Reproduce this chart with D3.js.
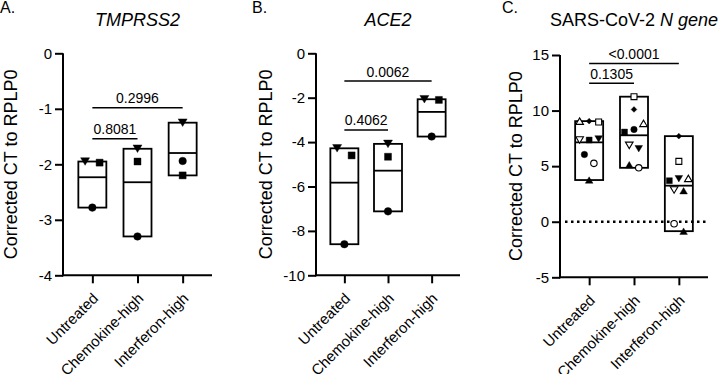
<!DOCTYPE html>
<html>
<head>
<meta charset="utf-8">
<script src="https://cdn.jsdelivr.net/npm/d3@7"></script>
<style>
  body { margin: 0; background: #fff; }
  text { font-family: "Liberation Sans", Arial, sans-serif; fill: #000; }
</style>
</head>
<body>
<script>
// Grupper
const groups = ["Untreated", "Chemokine-high", "Interferon-high"];

// Panel A - TMPRSS2 (donatorer: triangel ned, kvadrat, cirkel)
const donorSymbolsAB = ["triDownFilled", "squareFilled", "circleFilled"];
const tmprssValues = [
    [-1.95, -1.97, -2.78],
    [-1.72, -1.95, -3.30],
    [-1.25, -2.20, -1.94]
];
const tmprssTicks = [-4, -3, -2, -1, 0];
const tmprssP = ["0.2996", "0.8081"];

// Panel B - ACE2
const ace2Values = [
    [-4.28, -4.60, -8.60],
    [-4.08, -4.66, -7.12],
    [-2.07, -2.10, -3.75]
];
const ace2Ticks = [-10, -8, -6, -4, -2, 0];
const ace2P = ["0.0062", "0.4062"];

// Panel C - SARS-CoV-2 N gene
const nGeneSymbols = [
    ["triDownOpen", "squareFilled", "circleFilled", "triDownFilled", "triUpOpen", "diamondFilled", "squareOpen", "triUpFilled", "circleOpen"],
    ["triDownOpen", "squareFilled", "circleFilled", "triDownFilled", "triUpOpen", "diamondFilled", "squareOpen", "triUpFilled", "circleOpen"],
    ["triDownOpen", "squareFilled", "triDownFilled", "triUpOpen", "diamondFilled", "squareOpen", "triUpFilled", "circleOpen", "triUpFilled"]
];
const nGeneValues = [
    [7.35, 7.35, 6.05, 7.45, 9.05, 9.05, 8.97, 3.75, 5.25],
    [6.87, 8.07, 8.30, 6.57, 8.85, 10.10, 11.25, 5.13, 4.85],
    [2.85, 3.69, 3.87, 3.90, 7.70, 5.43, 2.79, -0.18, -0.85]
];
const nGeneTicks = [-5, 0, 5, 10, 15];
const nGeneP = ["<0.0001", "0.1305"];

const yLabel = "Corrected CT to RPLP0";

const svg = d3.select("body").append("svg")
    .attr("width", 720)
    .attr("height", 374);

const panels = [
    { letter: "A.", letterX: 0, title: [["TMPRSS2", true]],
      x0: 63, x1: 212, yTop: 53.3, yBot: 275.3, domain: [-4, 0], ticks: tmprssTicks,
      labelX: 16.7, values: tmprssValues, symbols: [donorSymbolsAB, donorSymbolsAB, donorSymbolsAB],
      pvals: tmprssP, levels: [-0.98, -1.54], spacing: 14.5, symScale: 1 },
    { letter: "B.", letterX: 252, title: [["ACE2", true]],
      x0: 316, x1: 460, yTop: 53.3, yBot: 275.3, domain: [-10, 0], ticks: ace2Ticks,
      labelX: 271.7, values: ace2Values, symbols: [donorSymbolsAB, donorSymbolsAB, donorSymbolsAB],
      pvals: ace2P, levels: [-1.25, -3.45], spacing: 14.5, symScale: 1 },
    { letter: "C.", letterX: 502, title: [["SARS-CoV-2 ", false], ["N gene", true]],
      x0: 560, x1: 708, yTop: 55, yBot: 277.3, domain: [-5, 15], ticks: nGeneTicks,
      labelX: 521.7, values: nGeneValues, symbols: nGeneSymbols,
      pvals: nGeneP, levels: [14.24, 12.45], spacing: 9.5, symScale: 0.85, refLine: 0 }
];

// Symboler, centrerade på sin bounding box
function symbolPath(name, k) {
    const base = name.replace(/(Open|Filled)$/, "");
    const open = name.endsWith("Open");
    const w = 4.5 * k, h = 3.8 * k, s = 3.5 * k, r = 3.8 * k, dm = 3.4 * k;
    const shapes = {
        triDown: `M${-w},${-h}L${w},${-h}L0,${h}Z`,
        triUp: `M${-w},${h}L${w},${h}L0,${-h}Z`,
        square: `M${-s},${-s}H${s}V${s}H${-s}Z`,
        diamond: `M0,${-dm}L${dm},0L0,${dm}L${-dm},0Z`,
        circle: `M${r},0A${r},${r},0,1,1,${-r},0A${r},${r},0,1,1,${r},0Z`
    };
    return { d: shapes[base], open: open };
}

// Lägg punkter i rader (som GraphPad)
function rowOffsets(vals, y, spacing) {
    const order = d3.range(vals.length).sort((a, b) => vals[b] - vals[a] || a - b);
    const offsets = vals.map(() => 0);
    let row = [];
    const flush = () => {
        row.sort((a, b) => a - b);
        row.forEach((idx, k) => offsets[idx] = (k - (row.length - 1) / 2) * spacing);
    };
    order.forEach(idx => {
        if (row.length && Math.abs(y(vals[idx]) - y(vals[row[0]])) >= 10) {
            flush();
            row = [];
        }
        row.push(idx);
    });
    flush();
    return offsets;
}

panels.forEach(p => {
    const g = svg.append("g");

    const x = d3.scalePoint().domain(groups).range([p.x0, p.x1]).padding(0.65);
    const y = d3.scaleLinear().domain(p.domain).range([p.yBot, p.yTop]);
    const midX = x(groups[1]);

    // Bokstav och titel
    g.append("text").attr("x", p.letterX).attr("y", 13)
        .style("font-size", "16px").text(p.letter);
    const title = g.append("text").attr("x", midX).attr("y", 26)
        .attr("text-anchor", "middle").style("font-size", "18px");
    p.title.forEach(([t, it]) => title.append("tspan").style("font-style", it ? "italic" : "normal").text(t));

    // Y-etikett
    g.append("text")
        .attr("transform", `translate(${p.labelX}, ${(p.yTop + p.yBot) / 2}) rotate(-90)`)
        .attr("text-anchor", "middle")
        .style("font-size", "18px")
        .text(yLabel);

    // Axlar
    const yAxis = g.append("g")
        .attr("transform", `translate(${p.x0}, 0)`)
        .call(d3.axisLeft(y).tickValues(p.ticks).tickSize(8).tickSizeOuter(0).tickPadding(3).tickFormat(d => String(d)));
    const xAxis = g.append("g")
        .attr("transform", `translate(0, ${p.yBot})`)
        .call(d3.axisBottom(x).tickSize(8).tickSizeOuter(0));

    [yAxis, xAxis].forEach(a => {
        a.selectAll("path, line").attr("stroke", "#000").attr("stroke-width", 2);
        a.selectAll("text").style("font-size", "15px").attr("fill", "#000");
    });
    yAxis.select(".domain").attr("d", `M0,${p.yTop}V${p.yBot + 1}`);
    xAxis.select(".domain").attr("d", `M${p.x0 - 1},0H${p.x1}`);
    xAxis.selectAll("text")
        .attr("y", 0).attr("dy", 0)
        .attr("text-anchor", "end")
        .attr("transform", "translate(6.3, 24) rotate(-45)")
        .style("font-size", "15px");

    // Referenslinje
    if (p.refLine !== undefined) {
        g.append("line")
            .attr("x1", p.x0 + 5).attr("x2", p.x1)
            .attr("y1", y(p.refLine)).attr("y2", y(p.refLine))
            .attr("stroke", "#000").attr("stroke-width", 2.5)
            .attr("stroke-dasharray", "2.5,3.5");
    }

    // Boxar (min-max, linje vid medel)
    const boxW = 28;
    groups.forEach((grp, i) => {
        const vals = p.values[i];
        const [lo, hi] = d3.extent(vals);
        const cx = x(grp);
        g.append("rect")
            .attr("x", cx - boxW / 2).attr("y", y(hi))
            .attr("width", boxW).attr("height", y(lo) - y(hi))
            .attr("fill", "none").attr("stroke", "#000").attr("stroke-width", 1.8);
        g.append("line")
            .attr("x1", cx - boxW / 2).attr("x2", cx + boxW / 2)
            .attr("y1", y(d3.mean(vals))).attr("y2", y(d3.mean(vals)))
            .attr("stroke", "#000").attr("stroke-width", 1.8);

        const offs = rowOffsets(vals, y, p.spacing);
        vals.forEach((v, k) => {
            const s = symbolPath(p.symbols[i][k], p.symScale);
            g.append("path")
                .attr("d", s.d)
                .attr("transform", `translate(${cx + offs[k]}, ${y(v)})`)
                .attr("fill", s.open ? "#fff" : "#000")
                .attr("stroke", "#000")
                .attr("stroke-width", s.open ? 1.1 : 0.4);
        });
    });

    // Signifikans-klamrar: [0 -> 2] och [0 -> 1]
    const pairs = [[0, 2], [0, 1]];
    pairs.forEach(([a, b], j) => {
        const ly = y(p.levels[j]);
        const xa = x(groups[a]), xb = x(groups[b]);
        g.append("line")
            .attr("x1", xa).attr("x2", xb)
            .attr("y1", ly).attr("y2", ly)
            .attr("stroke", "#000").attr("stroke-width", 1.5);
        g.append("text")
            .attr("x", (xa + xb) / 2).attr("y", ly - 4.5)
            .attr("text-anchor", "middle")
            .style("font-size", "14px")
            .text(p.pvals[j]);
    });
});
</script>
</body>
</html>
